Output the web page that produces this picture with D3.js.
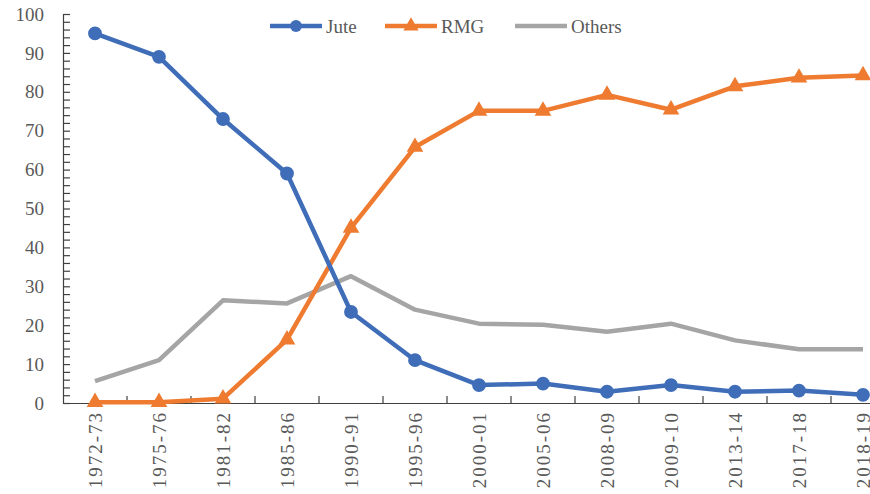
<!DOCTYPE html>
<html>
<head>
<meta charset="utf-8">
<script src="https://cdn.jsdelivr.net/npm/d3@7"></script>
<style>
    body { margin: 0; background: #fff; }
    text { font-family: 'Liberation Serif', 'Times New Roman', serif; fill: #595959; }
</style>
</head>
<body>
<div id="chart"></div>
<script>
const categories = ['1972-73', '1975-76', '1981-82', '1985-86', '1990-91', '1995-96', '2000-01',
    '2005-06', '2008-09', '2009-10', '2013-14', '2017-18', '2018-19'];
const jute = [95, 89, 73, 59, 23.4, 11, 4.6, 5, 2.9, 4.6, 2.9, 3.2, 2.1];
const rmg = [0.2, 0.2, 1.1, 16.3, 45, 65.8, 75.1, 75.1, 79.2, 75.4, 81.4, 83.6, 84.2];
const others = [5.6, 11, 26.4, 25.6, 32.6, 24, 20.4, 20.1, 18.3, 20.4, 16.1, 13.8, 13.8];
const yTicks = [0, 10, 20, 30, 40, 50, 60, 70, 80, 90, 100];

const series = [
    { name: 'Jute', values: jute, color: '#3F6DB8', marker: 'circle' },
    { name: 'RMG', values: rmg, color: '#EE7B30', marker: 'triangle' },
    { name: 'Others', values: others, color: '#A5A5A5', marker: null }
];

const width = 870, height = 494;
const margins = { left: 63, top: 14, right: -25, bottom: 91 };

const svg = d3.select('#chart').append('svg')
    .attr('width', width)
    .attr('height', height);

const x = d3.scaleBand()
    .domain(categories)
    .range([margins.left, width - margins.right]);

const y = d3.scaleLinear()
    .domain([0, 100])
    .range([height - margins.bottom, margins.top]);

// Axes
const axisColor = '#404040';

const yAxis = svg.append('g')
    .attr('transform', 'translate(' + margins.left + ', 0)')
    .call(d3.axisLeft(y).tickValues(d3.range(0, 101, 2)).tickSizeInner(-7).tickSizeOuter(0).tickFormat(''));
yAxis.selectAll('line, path').attr('stroke', axisColor).attr('stroke-width', 1.2);

svg.append('g')
    .selectAll('text')
    .data(yTicks)
    .join('text')
    .attr('x', 44)
    .attr('y', d => y(d))
    .attr('dy', '0.35em')
    .attr('text-anchor', 'end')
    .style('font-size', '19px')
    .text(d => d);

const xAxis = svg.append('g')
    .attr('transform', 'translate(0, ' + y(0) + ')')
    .call(d3.axisBottom(x).tickSize(0).tickSizeOuter(0));
xAxis.select('.domain').attr('stroke', axisColor).attr('stroke-width', 1.2);
xAxis.selectAll('.tick text')
    .attr('transform', 'rotate(-90)')
    .attr('x', -8)
    .attr('y', 0)
    .attr('dy', '0.35em')
    .attr('text-anchor', 'end')
    .style('font-size', '19px')
    .style('letter-spacing', '2px')
    .style('font-family', "'Liberation Serif', serif")
    .attr('fill', '#595959');

// category separators pointing up
svg.append('g')
    .selectAll('line')
    .data(categories.slice(1))
    .join('line')
    .attr('x1', d => x(d))
    .attr('x2', d => x(d))
    .attr('y1', y(0))
    .attr('y2', y(0) - 7)
    .attr('stroke', axisColor)
    .attr('stroke-width', 1.2);

// Lines
const line = d3.line()
    .x((d, i) => x(categories[i]) + x.bandwidth() / 2)
    .y(d => y(d));

const drawOrder = [series[2], series[1], series[0]];

drawOrder.forEach(s => {
    svg.append('path')
        .datum(s.values)
        .attr('fill', 'none')
        .attr('stroke', s.color)
        .attr('stroke-width', 4.5)
        .attr('stroke-linejoin', 'round')
        .attr('d', line);

    if (s.marker) {
        const sym = d3.symbol()
            .type(s.marker === 'circle' ? d3.symbolCircle : d3.symbolTriangle)
            .size(s.marker === 'circle' ? 150 : 120);
        svg.append('g')
            .selectAll('path')
            .data(s.values)
            .join('path')
            .attr('transform', (d, i) => 'translate(' + (x(categories[i]) + x.bandwidth() / 2) + ', ' + y(d) + ')')
            .attr('d', sym)
            .attr('fill', s.color);
    }
});

// Legend
const legendX = [270, 385, 515];
series.forEach((s, i) => {
    const g = svg.append('g').attr('transform', 'translate(' + legendX[i] + ', 26)');
    g.append('line')
        .attr('x1', 0).attr('x2', 52)
        .attr('stroke', s.color)
        .attr('stroke-width', 4.5);
    if (s.marker) {
        g.append('path')
            .attr('transform', 'translate(26, 0)')
            .attr('d', d3.symbol()
                .type(s.marker === 'circle' ? d3.symbolCircle : d3.symbolTriangle)
                .size(s.marker === 'circle' ? 110 : 100))
            .attr('fill', s.color);
    }
    g.append('text')
        .attr('x', 56)
        .attr('dy', '0.35em')
        .style('font-size', '19px')
        .text(s.name);
});
</script>
</body>
</html>
